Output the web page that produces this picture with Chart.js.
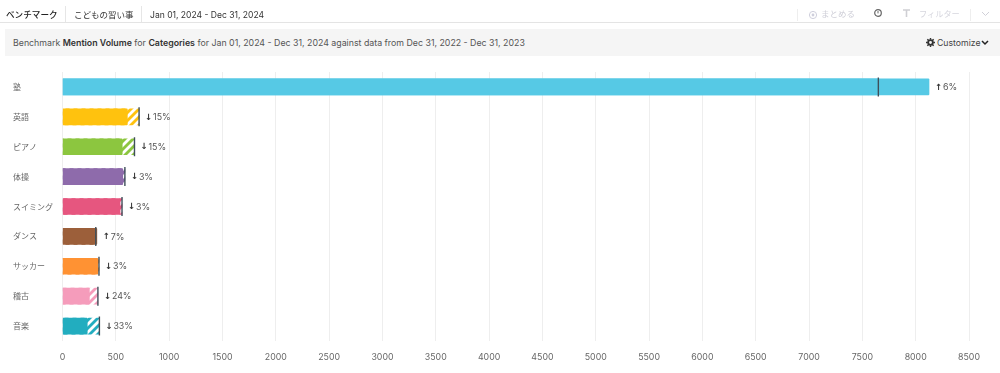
<!DOCTYPE html>
<html><head><meta charset="utf-8">
<script src="https://cdn.jsdelivr.net/npm/chart.js@4"></script>
<style>
html,body{margin:0;padding:0;background:#fff;width:1000px;height:373px;overflow:hidden;font-family:Inter,"Noto Sans CJK JP",sans-serif}
.t{position:absolute;white-space:nowrap;line-height:14px;font-size:8.6px;color:#333}
.b{position:absolute;background:#e6e6e6}
#c{position:absolute;left:0;top:0}
svg{position:absolute}
</style></head><body>
<canvas id="c" width="1000" height="373"></canvas>
<div class="t" style="left:6px;top:8px;font-weight:500;color:#222;font-size:8.6px">ベンチマーク</div>
<div class="b" style="left:65px;top:6px;width:1px;height:16px"></div>
<div class="t" style="left:74px;top:8px;color:#333;font-size:8.5px">こどもの習い事</div>
<div class="b" style="left:141px;top:6px;width:1px;height:16px"></div>
<div class="t" style="left:150px;top:8px;color:#333;font-size:8.55px">Jan 01, 2024 - Dec 31, 2024</div>
<div class="b" style="left:797px;top:9px;width:1px;height:12px;background:#eee"></div>
<svg style="left:808px;top:10px" width="10" height="10" viewBox="0 0 10 10"><circle cx="5" cy="5" r="3.6" fill="none" stroke="#cfcfdc"/><circle cx="5" cy="5" r="1.4" fill="#cfcfdc"/></svg>
<div class="t" style="left:821px;top:7px;color:#cfcfd8;font-size:8.5px">まとめる</div>
<svg style="left:873px;top:8px" width="10" height="10" viewBox="0 0 10 10"><circle cx="5" cy="5" r="3.3" fill="none" stroke="#666" stroke-width="1.2"/><path d="M5 3v2.4" stroke="#666"/></svg>
<svg style="left:902px;top:9px" width="9" height="9" viewBox="0 0 9 9"><path d="M1 1h7M4.5 1v7" stroke="#cfcfd4" stroke-width="1.6"/></svg>
<div class="t" style="left:919px;top:7px;color:#d6d6de;font-size:8.2px">フィルター</div>
<div class="b" style="left:970px;top:9px;width:1px;height:12px;background:#eee"></div>
<svg style="left:981px;top:11px" width="9" height="7" viewBox="0 0 9 7"><path d="M1 1l3.5 3.5L8 1" fill="none" stroke="#d0d0d8"/></svg>
<div class="b" style="left:0;top:22px;width:1000px;height:1px;background:#e4e4e4"></div>
<div class="b" style="left:5px;top:29px;width:995px;height:27px;background:#f5f5f5"></div>
<div class="t" style="left:13px;top:36px;color:#555;font-size:8.8px">Benchmark <b style="color:#333;font-weight:600">Mention Volume</b> for <b style="color:#333;font-weight:600">Categories</b> for Jan 01, 2024 - Dec 31, 2024 against data from Dec 31, 2022 - Dec 31, 2023</div>
<svg style="left:926px;top:38px" width="9" height="9" viewBox="0 0 10 10"><circle cx="5" cy="5" r="2.6" fill="none" stroke="#333" stroke-width="2"/><path d="M5 0v2M5 8v2M0 5h2M8 5h2M1.5 1.5l1.4 1.4M7.1 7.1l1.4 1.4M1.5 8.5l1.4-1.4M7.1 2.9l1.4-1.4" stroke="#333" stroke-width="1.6"/></svg>
<div class="t" style="left:937px;top:36px;color:#444;font-size:8.7px">Customize</div>
<svg style="left:981px;top:40px" width="8" height="6" viewBox="0 0 8 6"><path d="M1 1l3 3 3-3" fill="none" stroke="#222" stroke-width="1.5"/></svg>
<script>
const categories=["塾","英語","ピアノ","体操","スイミング","ダンス","サッカー","稽古","音楽"];
const currentValues=[8125,608,560,565,540,322,332,252,232];
const benchmarkValues=[7650,718,675,585,558,312,342,332,346];
const changeLabels=["6%","15%","15%","3%","3%","7%","3%","24%","33%"];
const directions=["up","down","down","down","down","up","down","down","down"];
const barColors=["#56C9E5","#FFC20E","#8CC63F","#8E6BAB","#E6567F","#9C5F3A","#FF9233","#F59CBB","#22ADBF"];
const xTicksMax=8500, xTickStep=500;

function hatch(color){
  const s=8,p=document.createElement('canvas');p.width=p.height=s;
  const g=p.getContext('2d');g.fillStyle='#fff';g.fillRect(0,0,s,s);
  g.strokeStyle=color;g.lineWidth=2.8;
  [[-s,s,s,-s],[0,s,s,0],[0,2*s,2*s,0]].forEach(a=>{g.beginPath();g.moveTo(a[0],a[1]);g.lineTo(a[2],a[3]);g.stroke();});
  return g.createPattern(p,'repeat');
}
const labelPlugin={id:'chg',afterDatasetsDraw(ch){
  const g=ch.ctx,x=ch.scales.x,y=ch.scales.y;
  g.save();g.textBaseline='middle';
  categories.forEach((c,i)=>{
    const px=x.getPixelForValue(Math.max(currentValues[i],benchmarkValues[i]))+6;
    const py=y.getPixelForValue(i)+0.5;
    g.font='700 8.5px "DejaVu Sans"';g.fillStyle='#333';g.textAlign='left';
    g.fillText(directions[i]==='up'?'↑':'↓',px,py);
    g.font='8.8px Inter';g.fillStyle='#555';
    g.fillText(changeLabels[i],px+8,py);
  });
  g.restore();
}};
new Chart(document.getElementById('c'),{
  data:{labels:categories,datasets:[
    {type:'line',data:benchmarkValues,showLine:false,pointStyle:'line',pointRotation:90,pointRadius:9.5,pointHoverRadius:9.5,pointBorderColor:'#3f4f5a',pointBorderWidth:1.4,order:0},
    {type:'bar',data:currentValues,backgroundColor:barColors,barThickness:16,grouped:false,borderRadius:1,order:1},
    {type:'bar',data:benchmarkValues,backgroundColor:barColors.map((c,i)=>currentValues[i]>benchmarkValues[i]+400?c:hatch(c)),barThickness:16,grouped:false,order:2}
  ]},
  plugins:[labelPlugin],
  options:{
    indexAxis:'y',responsive:false,animation:false,devicePixelRatio:1,
    layout:{padding:{top:72,right:31,bottom:0,left:13}},
    plugins:{legend:{display:false},tooltip:{enabled:false}},
    scales:{
      x:{min:0,max:xTicksMax,afterFit(s){s.height=32;},
        grid:{color:'#eeeeee',lineWidth:1,drawTicks:false},border:{display:false},
        ticks:{stepSize:xTickStep,padding:11,maxRotation:0,autoSkip:false,color:'#666',font:{family:'Inter',size:8.8},callback:v=>String(v)}},
      y:{afterFit(s){s.width=49.5;},
        grid:{display:false},border:{display:false},
        ticks:{crossAlign:'far',padding:0,color:'#666',font:{family:'"Noto Sans CJK JP"',size:8},mirror:false}}
    }
  }
});
</script>
</body></html>
